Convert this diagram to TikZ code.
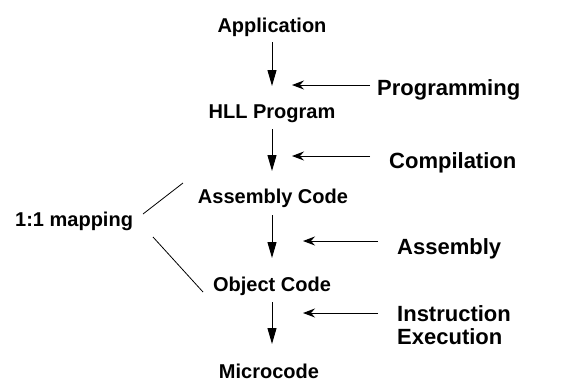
\documentclass[tikz,border=0pt]{standalone}
\usepackage{fontspec}
\setmainfont{Liberation Sans}
\usetikzlibrary{arrows.meta}
\begin{document}
\begin{tikzpicture}[x=1pt,y=-1pt,
  lvl/.style={font=\fontsize{20}{22}\selectfont\bfseries, inner sep=0pt},
  act/.style={font=\fontsize{22}{23}\selectfont\bfseries, inner sep=0pt, anchor=west, align=left},
  down/.style={line width=1pt, -{Triangle[length=16pt,width=9pt]}},
  side/.style={line width=1pt, -{Stealth[length=12pt,width=9pt,inset=4pt]}},
  thin/.style={line width=0.8pt}]
\useasboundingbox (0,0) rectangle (573,381);
\node[lvl] (app) at (272,27) {Application};
\node[lvl] (hll) at (272,114) {HLL Program};
\node[lvl] (asm) at (273,198) {Assembly Code};
\node[lvl] (obj) at (272,286) {Object Code};
\node[lvl] (mic) at (269,371) {Microcode};
\node[lvl, anchor=west] (map) at (15,221) {1:1 mapping};
\node[act] (prog) at (377,90) {Programming};
\node[act] (comp) at (389,163) {Compilation};
\node[act] (asmb) at (397,249) {Assembly};
\node[act] (inst) at (397,325) {Instruction\\Execution};
\coordinate (a1s) at (272,42); \coordinate (a1e) at (272,86);
\coordinate (a2s) at (272,129); \coordinate (a2e) at (272,171);
\coordinate (a3s) at (272,215); \coordinate (a3e) at (272,258);
\coordinate (a4s) at (272,302); \coordinate (a4e) at (272,344);
\draw[down] (a1s) -- (a1e);
\draw[down] (a2s) -- (a2e);
\draw[down] (a3s) -- (a3e);
\draw[down] (a4s) -- (a4e);
\coordinate (p1) at (370,85); \coordinate (p2) at (292,85);
\coordinate (c1) at (370,156); \coordinate (c2) at (292,156);
\coordinate (s1) at (378,241); \coordinate (s2) at (303,241);
\coordinate (i1) at (378,313); \coordinate (i2) at (303,313);
\draw[side] (p1) -- (p2);
\draw[side] (c1) -- (c2);
\draw[side] (s1) -- (s2);
\draw[side] (i1) -- (i2);
\coordinate (m1) at (143,214); \coordinate (m2) at (183,183);
\coordinate (m3) at (153,237); \coordinate (m4) at (203,292);
\draw[thin] (m1) -- (m2);
\draw[thin] (m3) -- (m4);
\end{tikzpicture}
\end{document}
